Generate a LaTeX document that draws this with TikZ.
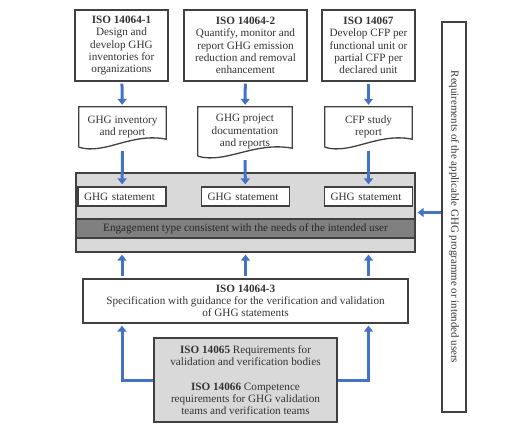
\documentclass[tikz,border=0pt]{standalone}
\usepackage{fontspec}
\setmainfont{Liberation Serif}
\usetikzlibrary{arrows.meta}
\definecolor{flowblue}{RGB}{68,114,196}
\definecolor{edgegray}{RGB}{64,64,64}
\definecolor{panelgray}{RGB}{217,217,217}
\definecolor{bandgray}{RGB}{128,128,128}

\begin{document}
\begin{tikzpicture}[%
      x=1pt, y=-1pt,
      box/.style={draw=edgegray, line width=1.3pt, fill=white, text=black!80,
        align=center, inner sep=0pt, font=\fontsize{11.2}{12.3}\selectfont},
      doctext/.style={text=black!80, align=center, inner sep=0pt,
        font=\fontsize{11.2}{12.3}\selectfont},
      docline/.style={draw=edgegray, line width=1.3pt},
      statement/.style={box, text width=76pt, align=left, inner xsep=6pt,
        minimum height=19pt},
      flow/.style={draw=flowblue, line width=3pt,
        -{Triangle[length=6pt,width=9pt]}, shorten >=2pt, shorten <=2pt},
      ]
      \useasboundingbox (0,0) rectangle (531,434);

      % standards on top
      \node [box, minimum width=93pt, minimum height=71pt] (iso1) at (121.5,45.5)
        {\textbf{ISO 14064-1}\\Design and\\develop GHG\\inventories for\\organizations};
      \node [box, minimum width=123pt, minimum height=71pt] (iso2) at (245.5,45.5)
        {\textbf{ISO 14064-2}\\Quantify, monitor and\\report GHG emission\\reduction and removal\\enhancement};
      \node [box, minimum width=93pt, minimum height=71pt] (iso7) at (368.5,45.5)
        {\textbf{ISO 14067}\\Develop CFP per\\functional unit or\\partial CFP per\\declared unit};

      % documents
      \node [doctext, minimum width=87pt, minimum height=40pt] (doc1) at (122.5,127)
        {GHG inventory\\and report};
      \node [doctext, minimum width=94pt, minimum height=49pt] (doc2) at (245,131.5)
        {GHG project\\documentation\\and reports};
      \node [doctext, minimum width=87pt, minimum height=40pt] (doc3) at (368.5,127)
        {CFP study\\report};
      \draw [docline] (doc1.south west) -- (doc1.north west) -- (doc1.north east)
        -- ([yshift=8pt]doc1.south east) .. controls +(-35,-7) and +(26,8) .. (doc1.south west);
      \draw [docline] (doc2.south west) -- (doc2.north west) -- (doc2.north east)
        -- ([yshift=8pt]doc2.south east) .. controls +(-38,-7) and +(28,8) .. (doc2.south west);
      \draw [docline] (doc3.south west) -- (doc3.north west) -- (doc3.north east)
        -- ([yshift=8pt]doc3.south east) .. controls +(-35,-7) and +(26,8) .. (doc3.south west);

      % statement panel
      \node [box, fill=panelgray, minimum width=339pt, minimum height=79pt] (panel) at (245.5,212.5) {};
      \node [statement] (st1) at (122,196.5) {GHG statement};
      \node [statement] (st2) at (245.5,196.5) {GHG statement};
      \node [statement] (st3) at (368.5,196.5) {GHG statement};
      \node [box, fill=bandgray, text=black!85, minimum width=339pt, minimum height=19pt] (band) at (245.5,228.5)
        {Engagement type consistent with the needs of the intended user};

      % verification
      \node [box, minimum width=325pt, minimum height=44pt] (iso3) at (245.5,301)
        {\textbf{ISO 14064-3}\\Specification with guidance for the verification and validation\\of GHG statements};
      \node [box, fill=panelgray, minimum width=183pt, minimum height=84pt] (bodies) at (245.5,380)
        {\textbf{ISO 14065} Requirements for\\validation and verification bodies\\[12.3pt]
         \textbf{ISO 14066} Competence\\requirements for GHG validation\\teams and verification teams};

      % programme requirements
      \node [box, rotate=-90, minimum width=390pt, minimum height=24pt,
        font=\fontsize{10.9}{12}\selectfont] (req) at (454,217)
        {Requirements of the applicable GHG programme or intended users};

      \draw [flow] (iso1) -- (doc1);
      \draw [flow] (iso2) -- (doc2);
      \draw [flow] (iso7) -- (doc3);
      \draw [flow, shorten <=4pt] (doc1.south) -- (st1);
      \draw [flow, shorten <=4pt] (doc2.south) -- (st2);
      \draw [flow, shorten <=4pt] (doc3.south) -- (st3);
      \draw [flow] (iso3.north -| st1) -- (panel.south -| st1);
      \draw [flow] (iso3.north -| st2) -- (panel.south -| st2);
      \draw [flow] (iso3.north -| st3) -- (panel.south -| st3);
      \draw [flow, shorten <=0pt] (bodies.west) -| (iso3.south -| st1);
      \draw [flow, shorten <=0pt] (bodies.east) -| (iso3.south -| st3);
      \draw [flow, shorten <=0pt] (req.south |- panel.east) -- (panel.east);
\end{tikzpicture}
\end{document}
